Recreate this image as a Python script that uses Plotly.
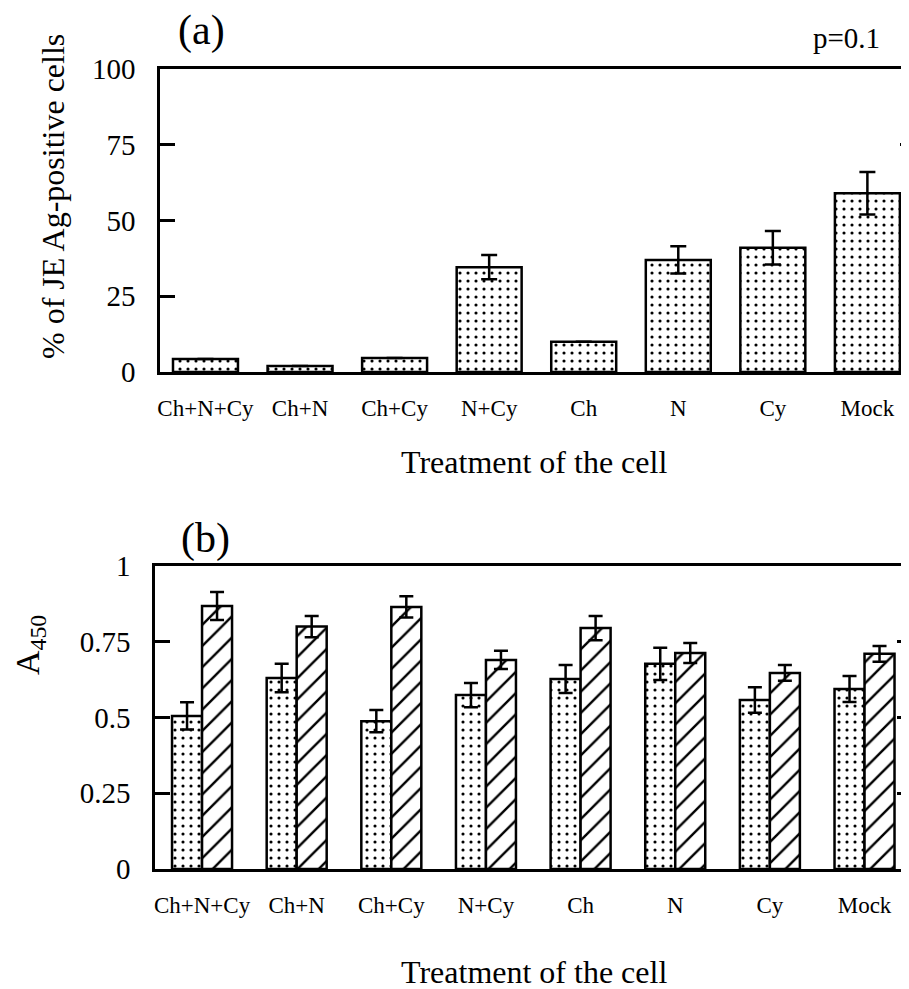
import plotly.graph_objects as go

# ---------------- data ----------------
categories = ["Ch+N+Cy", "Ch+N", "Ch+Cy", "N+Cy", "Ch", "N", "Cy", "Mock"]

# panel (a): % of JE Ag-positive cells
pct_positive = [4.3, 2.0, 4.6, 34.6, 10.0, 37.0, 41.0, 59.0]
pct_error = [0, 0, 0, 4.0, 0, 4.5, 5.5, 7.0]
pct_ticks = [0, 25, 50, 75, 100]

# panel (b): A450
a450_dotted = [0.505, 0.630, 0.488, 0.574, 0.627, 0.677, 0.558, 0.594]
a450_dotted_err = [0.045, 0.047, 0.037, 0.040, 0.046, 0.053, 0.042, 0.043]
a450_hatched = [0.868, 0.800, 0.865, 0.690, 0.795, 0.713, 0.647, 0.710]
a450_hatched_err = [0.046, 0.035, 0.035, 0.030, 0.040, 0.033, 0.026, 0.026]
a450_ticks = [0, 0.25, 0.5, 0.75, 1]
a450_ticktext = ["0", "0.25", "0.5", "0.75", "1"]

# ---------------- layout helpers ----------------
# the page body has an 8px margin; size the figure so it fits the 909x989 window
OFF = 8
W, H = 909 - OFF, 989 - OFF
SERIF = "Liberation Serif"


def px_x(x):
    return (x - OFF) / W


def px_y(y):
    return 1 - (y - OFF) / H


LW = 2.5

dotted_pattern = dict(shape=".", fgcolor="black", bgcolor="white", size=8, solidity=0.12, fillmode="replace")
hatched_pattern = dict(shape="/", fgcolor="black", bgcolor="white", size=15, solidity=0.16, fillmode="replace")

fig = go.Figure()

# panel (a)
fig.add_trace(go.Bar(
    x=categories, y=pct_positive, xaxis="x", yaxis="y", width=0.687,
    marker=dict(color="white", line=dict(color="black", width=LW), pattern=dotted_pattern),
    error_y=dict(type="data", array=pct_error, visible=True, color="black", thickness=LW, width=8),
    showlegend=False, hoverinfo="skip",
))

# panel (b)
fig.add_trace(go.Bar(
    x=categories, y=a450_dotted, xaxis="x2", yaxis="y2",
    marker=dict(color="white", line=dict(color="black", width=LW), pattern=dotted_pattern),
    error_y=dict(type="data", array=a450_dotted_err, visible=True, color="black", thickness=LW, width=7),
    showlegend=False, hoverinfo="skip",
))
fig.add_trace(go.Bar(
    x=categories, y=a450_hatched, xaxis="x2", yaxis="y2",
    marker=dict(color="white", line=dict(color="black", width=LW), pattern=hatched_pattern),
    error_y=dict(type="data", array=a450_hatched_err, visible=True, color="black", thickness=LW, width=7),
    showlegend=False, hoverinfo="skip",
))

# empty traces to register right-side tick axes
fig.add_trace(go.Scatter(x=[], y=[], xaxis="x", yaxis="y3", showlegend=False, hoverinfo="skip"))
fig.add_trace(go.Scatter(x=[], y=[], xaxis="x2", yaxis="y4", showlegend=False, hoverinfo="skip"))

xcommon = dict(
    type="category", showline=True, linecolor="black", linewidth=LW, mirror=True,
    ticks="", showgrid=False, zeroline=False, automargin=False,
    tickfont=dict(family=SERIF, size=23, color="black"), ticklabelstandoff=14,
)
ycommon = dict(
    showline=True, linecolor="black", linewidth=LW, ticks="inside", ticklen=15,
    tickwidth=LW, tickcolor="black", showgrid=False, zeroline=False, automargin=False,
    tickfont=dict(family=SERIF, size=29, color="black"), ticklabelstandoff=16,
)
yright = dict(side="right", ticks="inside", tickwidth=LW, tickcolor="black", showticklabels=False,
              showline=False, showgrid=False, zeroline=False, automargin=False)

fig.update_layout(
    template="none",
    width=W, height=H,
    margin=dict(l=0, r=0, t=0, b=0, pad=0, autoexpand=False),
    paper_bgcolor="white", plot_bgcolor="white",
    barmode="group", bargap=0.366, bargroupgap=0,
    showlegend=False,
    font=dict(family=SERIF, color="black"),
    xaxis=dict(xcommon, domain=[px_x(160), 1], range=[-0.481, 7.44], anchor="y"),
    yaxis=dict(ycommon, domain=[px_y(372), px_y(69)], range=[0, 100], tickvals=pct_ticks, anchor="x"),
    yaxis3=dict(yright, overlaying="y", anchor="x", range=[0, 100], tickvals=pct_ticks[1:-1], ticklen=9),
    xaxis2=dict(xcommon, domain=[px_x(155), 1], range=[-0.497, 7.47], anchor="y2"),
    yaxis2=dict(ycommon, domain=[px_y(869), px_y(566)], range=[0, 1], tickvals=a450_ticks,
                ticktext=a450_ticktext, anchor="x2"),
    yaxis4=dict(yright, overlaying="y2", anchor="x2", range=[0, 1], tickvals=a450_ticks[1:-1], ticklen=12),
)

ann = [
    dict(text="(a)", x=px_x(201), y=px_y(31), font=dict(size=42)),
    dict(text="p=0.1", x=px_x(846), y=px_y(38), font=dict(size=29)),
    dict(text="% of JE Ag-positive cells", x=px_x(53), y=px_y(197), textangle=-90, font=dict(size=32)),
    dict(text="Treatment of the cell", x=px_x(534), y=px_y(462), font=dict(size=32)),
    dict(text="(b)", x=px_x(205), y=px_y(538), font=dict(size=42)),
    dict(text="A<sub>450</sub>", x=px_x(30), y=px_y(645), textangle=-90, font=dict(size=34)),
    dict(text="Treatment of the cell", x=px_x(534), y=px_y(972), font=dict(size=32)),
]
for a in ann:
    a.update(xref="paper", yref="paper", xanchor="center", yanchor="middle", showarrow=False)
    a["font"].update(family=SERIF, color="black")
fig.update_layout(annotations=ann)

fig.write_html("out.html")
